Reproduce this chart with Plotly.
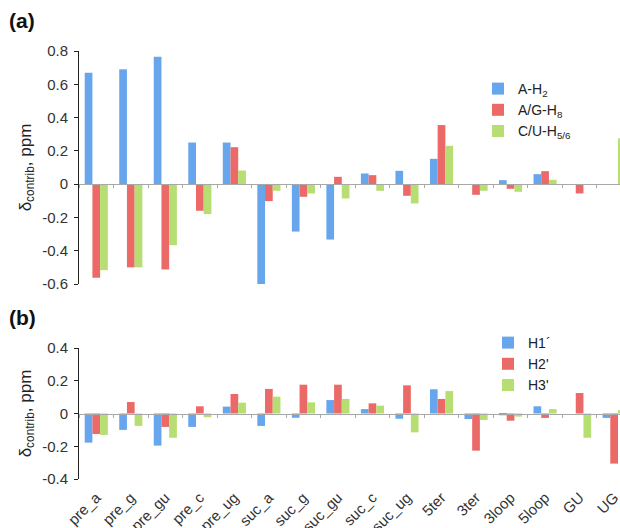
import plotly.graph_objects as go

categories = ["pre_a", "pre_g", "pre_gu", "pre_c", "pre_ug", "suc_a", "suc_g", "suc_gu",
              "suc_c", "suc_ug", "5ter", "3ter", "3loop", "5loop", "GU", "UG"]

# Panel (a)
a_h2 = [0.67, 0.69, 0.766, 0.25, 0.25, -0.603, -0.285, -0.333, 0.064, 0.08, 0.152, 0.0, 0.024, 0.06, 0.0, 0.0]
ag_h8 = [-0.563, -0.50, -0.513, -0.16, 0.222, -0.102, -0.076, 0.044, 0.054, -0.07, 0.355, -0.064, -0.028, 0.078, -0.056, 0.0]
cu_h56 = [-0.517, -0.50, -0.367, -0.18, 0.082, -0.04, -0.056, -0.086, -0.04, -0.116, 0.23, -0.04, -0.046, 0.026, 0.0, 0.275]

# Panel (b)
h1 = [-0.178, -0.10, -0.196, -0.082, 0.042, -0.076, -0.026, 0.082, 0.027, -0.032, 0.148, -0.034, -0.011, 0.044, 0.0, -0.027]
h2 = [-0.125, 0.07, -0.082, 0.044, 0.119, 0.15, 0.176, 0.176, 0.062, 0.172, 0.089, -0.227, -0.044, -0.027, 0.125, -0.306]
h3 = [-0.131, -0.076, -0.148, -0.023, 0.066, 0.103, 0.068, 0.089, 0.048, -0.115, 0.137, -0.04, -0.019, 0.027, -0.148, 0.02]

ticks_a = [-0.6, -0.4, -0.2, 0, 0.2, 0.4, 0.6, 0.8]
ticks_a_text = ["-0.6", "-0.4", "-0.2", "0", "0.2", "0.4", "0.6", "0.8"]
ticks_b = [-0.4, -0.2, 0, 0.2, 0.4]
ticks_b_text = ["-0.4", "-0.2", "0", "0.2", "0.4"]

BLUE = "#67a6ec"
RED = "#eb6a68"
GREEN = "#b6de72"

W, H = 620, 528
ML, MR, MT, MB = 79, 0, 51, 49
PH = H - MT - MB
PW = W - ML - MR


def py(pix):
    return (H - MB - pix) / PH


def px(pix):
    return (pix - ML) / PW


dom_a = [py(284), py(51)]
dom_b = [py(479), py(348)]
zero_a = py(184)
zero_b = py(413.5)

xr = [-0.5, 15.17]

fig = go.Figure()
for name, vals, col in [("A-H<sub>2</sub>", a_h2, BLUE), ("A/G-H<sub>8</sub>", ag_h8, RED),
                        ("C/U-H<sub>5/6</sub>", cu_h56, GREEN)]:
    fig.add_trace(go.Bar(x=categories, y=vals, name=name, marker=dict(color=col, line=dict(width=0)),
                         xaxis="x", yaxis="y", legend="legend"))
for name, vals, col in [("H1´", h1, BLUE), ("H2'", h2, RED), ("H3'", h3, GREEN)]:
    fig.add_trace(go.Bar(x=categories, y=vals, name=name, marker=dict(color=col, line=dict(width=0)),
                         xaxis="x2", yaxis="y2", legend="legend2"))
# dummy trace to carry the zero-line axis of panel (b)
fig.add_trace(go.Scatter(x=categories, y=[None] * len(categories), xaxis="x3", yaxis="y2",
                         showlegend=False, hoverinfo="skip", mode="markers"))

FAM = "Liberation Sans, Arial, sans-serif"
font = dict(family=FAM, color="#222")
tickfont = dict(family=FAM, size=15, color="#333")

yaxis_common = dict(showgrid=False, zeroline=False, showline=True, linecolor="#222", linewidth=1,
                    ticks="outside", ticklen=4, tickcolor="#222", tickfont=tickfont, automargin=False,
                    ticklabelstandoff=3,
                    title=dict(text="δ<sub>contrib</sub>, ppm", font=dict(size=17, color="#222"), standoff=6))

fig.update_layout(
    width=W, height=H, margin=dict(l=ML, r=MR, t=MT, b=MB),
    paper_bgcolor="white", plot_bgcolor="white", font=font,
    barmode="group", bargap=0.33, bargroupgap=0,
    xaxis=dict(type="category", categoryarray=categories, range=xr, anchor="free", position=zero_a,
               domain=[0, 1], showline=True, linecolor="#a8a8a8", linewidth=1, ticks="outside",
               tickson="boundaries", ticklen=3, tickcolor="#a8a8a8", showticklabels=False, showgrid=False,
               automargin=False),
    yaxis=dict(domain=dom_a, range=[-0.6, 0.8], tickvals=ticks_a, ticktext=ticks_a_text, anchor="x",
               **yaxis_common),
    xaxis2=dict(type="category", categoryarray=categories, range=xr, anchor="y2", domain=[0, 1],
                showline=False, ticks="outside", ticklen=3, tickcolor="rgba(0,0,0,0)",
                showticklabels=True, tickangle=-45, tickfont=tickfont,
                showgrid=False, automargin=False),
    xaxis3=dict(type="category", categoryarray=categories, range=xr, overlaying="x2", anchor="free",
                position=zero_b, showline=True, linecolor="#a8a8a8", linewidth=1, ticks="outside",
                tickson="boundaries", ticklen=3, tickcolor="#a8a8a8", showticklabels=False, showgrid=False,
                automargin=False),
    yaxis2=dict(domain=dom_b, range=[-0.4, 0.4], tickvals=ticks_b, ticktext=ticks_b_text, anchor="x2",
                **yaxis_common),
    legend=dict(x=px(478), y=py(73), xanchor="left", yanchor="top", bgcolor="rgba(0,0,0,0)",
                font=dict(size=14, color="#222"), tracegroupgap=0, itemwidth=30),
    legend2=dict(x=px(488), y=py(327), xanchor="left", yanchor="top", bgcolor="rgba(0,0,0,0)",
                 font=dict(size=14, color="#222"), tracegroupgap=0, itemwidth=30),
    annotations=[
        dict(text="<b>(a)</b>", xref="paper", yref="paper", x=px(7), y=py(7),
             xanchor="left", yanchor="top", showarrow=False, font=dict(size=21, color="#111")),
        dict(text="<b>(b)</b>", xref="paper", yref="paper", x=px(7), y=py(304),
             xanchor="left", yanchor="top", showarrow=False, font=dict(size=21, color="#111")),
    ],
    showlegend=True,
)

fig.write_html("out.html")
